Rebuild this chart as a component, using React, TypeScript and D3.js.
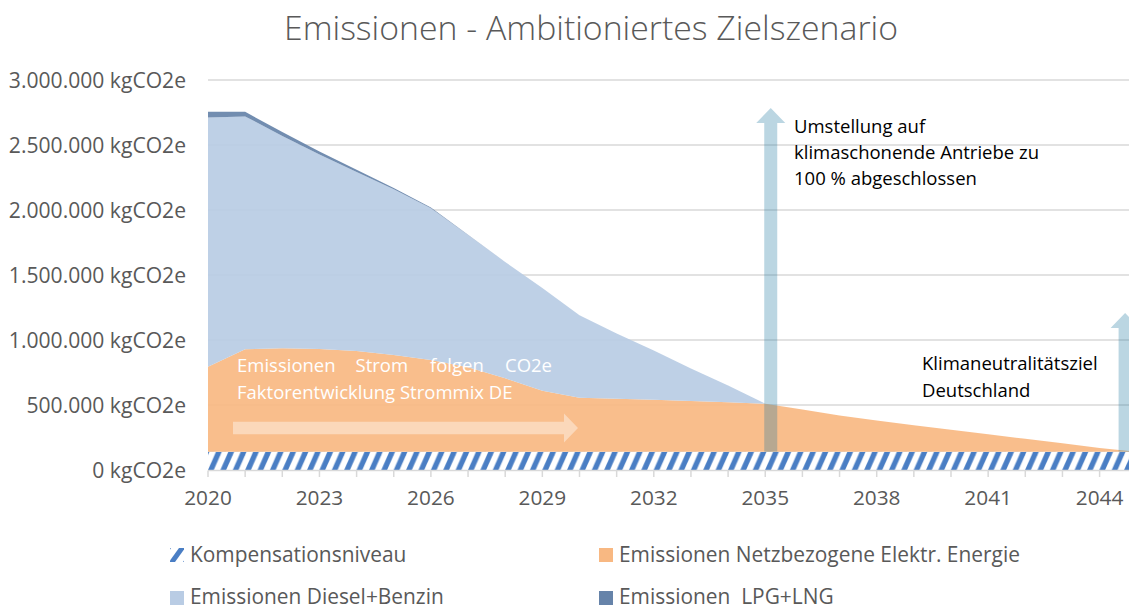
import React from 'react';
import * as d3 from 'd3';

const years = [2020, 2021, 2022, 2023, 2024, 2025, 2026, 2027, 2028, 2029, 2030, 2031, 2032, 2033, 2034, 2035, 2036, 2037, 2038, 2039, 2040, 2041, 2042, 2043, 2044, 2045];
const kompensation = [140000, 140000, 140000, 140000, 140000, 140000, 140000, 140000, 140000, 140000, 140000, 140000, 140000, 140000, 140000, 140000, 140000, 140000, 140000, 140000, 140000, 140000, 140000, 140000, 140000, 140000];
const elektr = [655000, 788000, 797000, 791000, 775000, 745000, 706000, 650000, 565000, 470000, 416000, 408000, 400000, 391000, 382000, 370000, 325000, 280000, 240000, 205000, 170000, 135000, 100000, 65000, 30000, 0];
const diesel = [1917000, 1792000, 1633000, 1495000, 1378000, 1274000, 1168000, 1018000, 895000, 790000, 634000, 502000, 380000, 249000, 128000, 0, 0, 0, 0, 0, 0, 0, 0, 0, 0, 0];
const lpg = [43000, 35000, 30000, 24000, 17000, 11000, 6000, 2000, 0, 0, 0, 0, 0, 0, 0, 0, 0, 0, 0, 0, 0, 0, 0, 0, 0, 0];
const yTicks = [0, 500000, 1000000, 1500000, 2000000, 2500000, 3000000];
const xTickLabels = [2020, 2023, 2026, 2029, 2032, 2035, 2038, 2041, 2044];

const seriesNames = ['Kompensationsniveau', 'Emissionen Netzbezogene Elektr. Energie', 'Emissionen Diesel+Benzin', 'Emissionen  LPG+LNG'];
const title = 'Emissionen - Ambitioniertes Zielszenario';

const W = 1129;
const H = 610;
const FONT = "'Open Sans', sans-serif";
const GREY = '#595959';
const COLORS = { elektr: '#F8B882', diesel: '#B9CCE4', lpg: '#6683A9', hatch: '#4A7EC4', arrow: 'rgb(30,120,160)' };

const de = d3.formatLocale({ decimal: ',', thousands: '.', grouping: [3], currency: ['', '€'] });
const fmt = de.format(',');

export default function App() {
  const x = d3.scaleLinear().domain([2020, 2045]).range([208, 208 + 25 * 37.15]);
  const y = d3.scaleLinear().domain([0, 3000000]).range([470, 80]);

  const rows = years.map((yr, i) => ({ year: yr, komp: kompensation[i], elektr: elektr[i], diesel: diesel[i], lpg: lpg[i] }));
  const stack = d3.stack<any>().keys(['komp', 'elektr', 'diesel', 'lpg']);
  const stacked = stack(rows);
  const area = d3.area<any>()
    .x((d) => x(d.data.year))
    .y0((d) => y(d[0]))
    .y1((d) => y(d[1]))
    .curve(d3.curveLinear);

  const fills: Record<string, string> = {
    komp: 'url(#hatch)',
    elektr: COLORS.elektr,
    diesel: COLORS.diesel,
    lpg: COLORS.lpg,
  };

  const kompTop = y(kompensation[0]);
  const P = 12.38;
  const bandH = y(0) - kompTop;

  const vArrow = (cx: number, yBottom: number, yTip: number) => {
    const sw = 6.5, hw = 14.5, hl = 15;
    const pts = [
      [cx - sw, yBottom], [cx - sw, yTip + hl], [cx - hw, yTip + hl], [cx, yTip],
      [cx + hw, yTip + hl], [cx + sw, yTip + hl], [cx + sw, yBottom],
    ];
    return pts.map((p) => p.join(',')).join(' ');
  };
  const hArrow = (x0: number, x1: number, cy: number) => {
    const sw = 6.2, hw = 14.5, hl = 14;
    const pts = [
      [x0, cy - sw], [x1 - hl, cy - sw], [x1 - hl, cy - hw], [x1, cy],
      [x1 - hl, cy + hw], [x1 - hl, cy + sw], [x0, cy + sw],
    ];
    return pts.map((p) => p.join(',')).join(' ');
  };

  const allTicks = years.filter((yr) => x(yr) <= W);

  return (
    <div style={{ position: 'absolute', left: 0, top: 0 }}>
      <svg width={W} height={H} style={{ display: 'block', background: '#fff' }} fontFamily={FONT}>
        <defs>
          <pattern id="hatch" patternUnits="userSpaceOnUse" x={208} y={kompTop} width={P} height={bandH}>
            <rect width={P} height={bandH} fill="#fff" />
            {[-P, 0, P].map((o) => (
              <polygon key={o} fill={COLORS.hatch}
                points={`${o},${bandH} ${o + 5.8},${bandH} ${o + 13.8},0 ${o + 8},0`} />
            ))}
          </pattern>
          <pattern id="hatchLegend" patternUnits="userSpaceOnUse" x={170} y={548} width={14} height={14}>
            <rect width={14} height={14} fill="#fff" />
            {[-14, 0, 14].map((o) => (
              <polygon key={o} fill={COLORS.hatch}
                points={`${o - 1},14 ${o + 5},14 ${o + 15},0 ${o + 9},0`} />
            ))}
          </pattern>
        </defs>

        <text x={591} y={40} textAnchor="middle" fontSize={33.8} fontWeight={300} fill={GREY}>{title}</text>

        {yTicks.map((t) => (
          <g key={t}>
            {t > 0 && <line x1={208} x2={W} y1={y(t)} y2={y(t)} stroke="#D9D9D9" strokeWidth={1.5} />}
            <text x={186} y={y(t)} dy="0.36em" textAnchor="end" fontSize={21.1} fill={GREY}>{fmt(t)} kgCO2e</text>
          </g>
        ))}

        {stacked.map((s) => (
          <path key={s.key} d={area(s) || ''} fill={fills[s.key]} fillOpacity={s.key === 'komp' ? 1 : 0.92} />
        ))}

        <line x1={208} x2={W} y1={470.5} y2={470.5} stroke="#D9D9D9" strokeWidth={1.5} />
        {allTicks.map((yr) => (
          <line key={yr} x1={x(yr)} x2={x(yr)} y1={470.5} y2={477} stroke="#D9D9D9" strokeWidth={1.5} />
        ))}
        {xTickLabels.map((yr) => (
          <text key={yr} x={x(yr)} y={505} textAnchor="middle" fontSize={20.8} fill={GREY}>{yr}</text>
        ))}

        <polygon points={vArrow(x(2035) + 5.5, kompTop, 108)} fill={COLORS.arrow} fillOpacity={0.3} />
        <polygon points={vArrow(x(2044) + 25.5, kompTop, 313)} fill={COLORS.arrow} fillOpacity={0.3} />
        <polygon points={hArrow(233, 578, 428)} fill="#fff" fillOpacity={0.4} />

        <g fontSize={18.5} fill="#fff">
          <text y={372}>
            <tspan x={237}>Emissionen</tspan>
            <tspan x={355.5}>Strom</tspan>
            <tspan x={430}>folgen</tspan>
            <tspan x={505}>CO2e</tspan>
          </text>
          <text x={237} y={399}>Faktorentwicklung Strommix DE</text>
        </g>

        <g fontSize={18.5} fill="#000">
          <text x={794} y={133}>Umstellung auf</text>
          <text x={794} y={159}>klimaschonende Antriebe zu</text>
          <text x={794} y={185}>100 % abgeschlossen</text>
          <text x={922} y={370}>Klimaneutralitätsziel</text>
          <text x={922} y={397}>Deutschland</text>
        </g>

        <g fontSize={20.9} fill={GREY}>
          <rect x={170} y={548} width={14} height={14} fill="url(#hatchLegend)" />
          <text x={190} y={561.5}>{seriesNames[0]}</text>
          <rect x={599} y={548} width={14} height={14} fill={COLORS.elektr} />
          <text x={619} y={561.5}>{seriesNames[1]}</text>
          <rect x={170} y={591} width={14} height={14} fill={COLORS.diesel} />
          <text x={190} y={603.5}>{seriesNames[2]}</text>
          <rect x={599} y={591} width={14} height={14} fill={COLORS.lpg} />
          <text x={619} y={603.5} style={{ whiteSpace: 'pre' }}>{seriesNames[3]}</text>
        </g>
      </svg>
    </div>
  );
}
